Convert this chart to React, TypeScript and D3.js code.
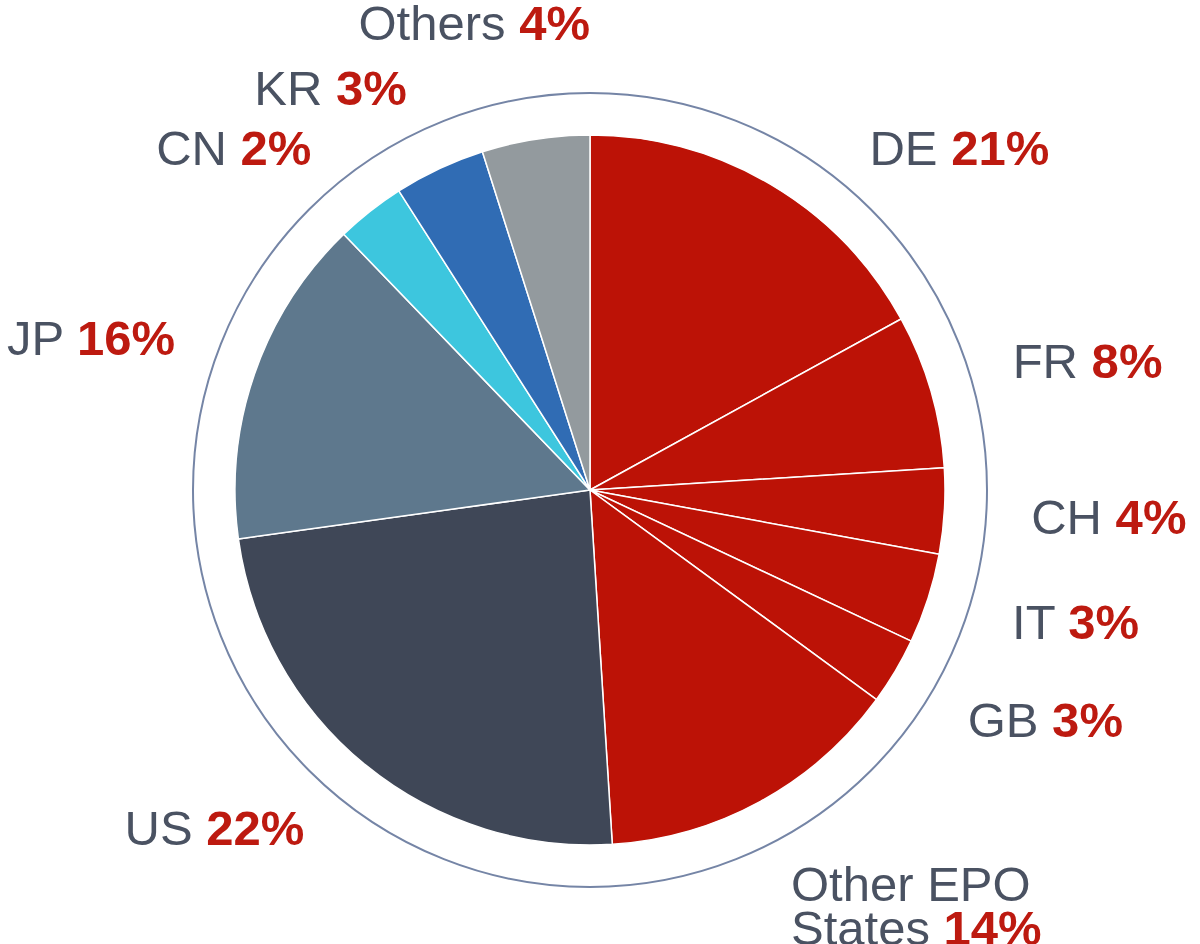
import React from "react";
import * as d3 from "d3";

// filing shares by country of origin
const countries = ["DE", "FR", "CH", "IT", "GB", "Other EPO States", "US", "JP", "CN", "KR", "Others"];
const labelShares = [21, 8, 4, 3, 3, 14, 22, 16, 2, 3, 4];
const sliceValues = [17.0, 7.0, 3.9, 4.1, 3.05, 13.95, 23.8, 15.0, 3.15, 4.15, 4.9];

const colors = [
  "#bc1206", "#bc1206", "#bc1206", "#bc1206", "#bc1206", "#bc1206",
  "#3f4757", "#5e788d", "#3dc6de", "#306cb4", "#939a9e",
];

const width = 1200;
const height = 944;
const cx = 590;
const cy = 490;
const radius = 355;
const ringRadius = 397;
const labelRadius = 442;
const fontSize = 49;
// small vertical shifts the labels got to avoid each other
const labelNudge = [38, -6, 0, -4, 4, 6, -5, -8, 4, -2, -31];

const textGrey = "#4a5262";
const textRed = "#bd1a10";

const App = () => {
  const pie = d3
    .pie<number>()
    .sort(null)
    .value((d) => d);
  const arcs = pie(sliceValues);
  const arc = d3.arc<d3.PieArcDatum<number>>().innerRadius(0).outerRadius(radius);

  const labels = arcs.map((a, i) => {
    const mid = (a.startAngle + a.endAngle) / 2;
    const y = -labelRadius * Math.cos(mid) + labelNudge[i];
    const right = Math.sin(mid) >= 0;
    const xAbs = Math.sqrt(Math.max(0, labelRadius * labelRadius - y * y));
    return { x: right ? xAbs : -xAbs, y, right };
  });

  return (
    <svg
      width={width}
      height={height}
      style={{ position: "absolute", left: 0, top: 0, background: "#fff" }}
      fontFamily="'Liberation Sans', Arial, sans-serif"
    >
      <g transform={`translate(${cx},${cy})`}>
        <circle r={ringRadius} fill="none" stroke="#7585a6" strokeWidth={2} />
        {arcs.map((a, i) => (
          <path key={i} d={arc(a) || ""} fill={colors[i]} stroke="#fff" strokeWidth={1.5} strokeLinejoin="round" />
        ))}
        {labels.map((l, i) => {
          const name = countries[i];
          const anchor = l.right ? "start" : "end";
          if (name === "Other EPO States") {
            return (
              <text key={i} x={l.x} y={l.y} textAnchor={anchor} fontSize={fontSize} fill={textGrey}>
                <tspan x={l.x} dy="0.36em">Other EPO</tspan>
                <tspan x={l.x} dy="0.9em">States </tspan>
                <tspan fill={textRed} fontWeight="bold">{labelShares[i]}%</tspan>
              </text>
            );
          }
          return (
            <text key={i} x={l.x} y={l.y} dy="0.36em" textAnchor={anchor} fontSize={fontSize} fill={textGrey}>
              {name}{" "}
              <tspan fill={textRed} fontWeight="bold">{labelShares[i]}%</tspan>
            </text>
          );
        })}
      </g>
    </svg>
  );
};

export default App;
